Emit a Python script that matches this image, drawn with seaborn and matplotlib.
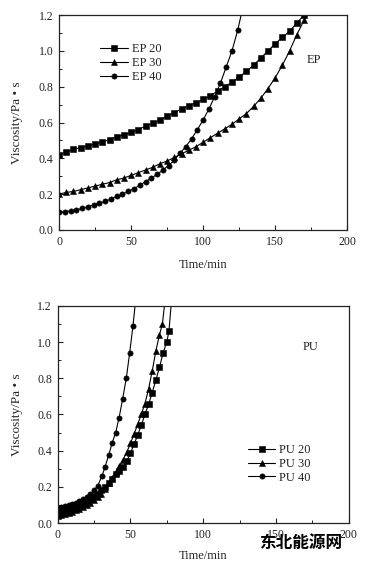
import numpy as np
import pandas as pd
import matplotlib
matplotlib.use("Agg")
import matplotlib.pyplot as plt
import seaborn as sns
from matplotlib.ticker import MultipleLocator

# ---------------- EP panel data ----------------
ep20_t = [0, 5, 10, 15, 20, 25, 30, 35, 40, 45, 50, 55, 60, 65, 70, 75, 80, 85, 90,
          95, 100, 105, 110, 115, 120, 125, 130, 135, 140, 145, 150, 155, 160, 165, 170]
ep20_v = [0.42, 0.435, 0.45, 0.46, 0.47, 0.48, 0.49, 0.505, 0.52, 0.53, 0.545, 0.56,
          0.58, 0.595, 0.615, 0.635, 0.655, 0.675, 0.695, 0.71, 0.73, 0.75, 0.775, 0.80,
          0.825, 0.855, 0.885, 0.92, 0.96, 1.0, 1.04, 1.075, 1.11, 1.155, 1.2]

ep30_t = [0, 5, 10, 15, 20, 25, 30, 35, 40, 45, 50, 55, 60, 65, 70, 75, 80, 85, 90,
          95, 100, 105, 110, 115, 120, 125, 130, 135, 140, 145, 150, 155, 160, 165, 170, 173]
ep30_v = [0.2, 0.21, 0.215, 0.225, 0.235, 0.245, 0.255, 0.265, 0.28, 0.29, 0.305, 0.32,
          0.335, 0.35, 0.37, 0.385, 0.405, 0.425, 0.445, 0.465, 0.49, 0.515, 0.54, 0.565,
          0.59, 0.62, 0.65, 0.69, 0.735, 0.79, 0.85, 0.92, 1.0, 1.09, 1.17, 1.23]

ep40_t = [0, 4, 8, 12, 16, 20, 24, 28, 32, 36, 40, 44, 48, 52, 56, 60, 64, 68, 72, 76,
          80, 84, 88, 92, 96, 100, 104, 108, 112, 116, 120, 124, 128]
ep40_v = [0.10, 0.102, 0.107, 0.113, 0.12, 0.13, 0.14, 0.15, 0.16, 0.173, 0.187, 0.2,
          0.215, 0.23, 0.25, 0.27, 0.29, 0.31, 0.335, 0.36, 0.39, 0.43, 0.465, 0.51,
          0.56, 0.615, 0.675, 0.745, 0.82, 0.91, 1.0, 1.115, 1.26]

# ---------------- PU panel data ----------------
pu20_t = [0, 2.5, 5, 7.5, 10, 12.5, 15, 17.5, 20, 22.5, 25, 27.5, 30, 32.5, 35, 37.5,
          40, 42.5, 45, 47.5, 50, 52.5, 55, 57.5, 60, 62.5, 65, 67.5, 70, 72.5, 75, 76.5, 79]
pu20_v = [0.06, 0.063, 0.067, 0.072, 0.08, 0.088, 0.097, 0.107, 0.12, 0.133, 0.148,
          0.163, 0.18, 0.2, 0.22, 0.245, 0.27, 0.29, 0.31, 0.34, 0.385, 0.435, 0.485,
          0.54, 0.6, 0.655, 0.72, 0.79, 0.86, 0.94, 1.0, 1.06, 1.3]

pu30_t = [0, 2.5, 5, 7.5, 10, 12.5, 15, 17.5, 20, 22.5, 25, 27.5, 30, 32.5, 35, 37.5,
          40, 42.5, 45, 47.5, 50, 52.5, 55, 57.5, 60, 62.5, 65, 67.5, 70, 72, 74.5]
pu30_v = [0.04, 0.044, 0.048, 0.054, 0.062, 0.07, 0.079, 0.088, 0.098, 0.11, 0.125,
          0.142, 0.162, 0.19, 0.22, 0.25, 0.28, 0.315, 0.35, 0.39, 0.44, 0.49, 0.545,
          0.6, 0.66, 0.74, 0.84, 0.95, 1.04, 1.1, 1.28]

pu40_t = [0, 2.5, 5, 7.5, 10, 12.5, 15, 17.5, 20, 22.5, 25, 27.5, 30.5, 32.6, 35.1,
          37.4, 39.9, 42.2, 44.7, 47.2, 49.5, 51.8, 54.5]
pu40_v = [0.085, 0.088, 0.092, 0.098, 0.105, 0.113, 0.122, 0.132, 0.145, 0.16, 0.18,
          0.205, 0.26, 0.31, 0.375, 0.44, 0.50, 0.58, 0.687, 0.80, 0.94, 1.09, 1.3]

xticks = [0, 50, 100, 150, 200]
yticks = [0.0, 0.2, 0.4, 0.6, 0.8, 1.0, 1.2]


def long_frame(series):
    parts = []
    for name, t, v in series:
        parts.append(pd.DataFrame({"Time": t, "Viscosity": v, "series": name}))
    return pd.concat(parts, ignore_index=True)


ep_df = long_frame([("EP 20", ep20_t, ep20_v), ("EP 30", ep30_t, ep30_v),
                    ("EP 40", ep40_t, ep40_v)])
pu_df = long_frame([("PU 20", pu20_t, pu20_v), ("PU 30", pu30_t, pu30_v),
                    ("PU 40", pu40_t, pu40_v)])

sns.set_theme(style="ticks")
plt.rcParams["font.family"] = ["Liberation Serif", "DejaVu Serif"]
plt.rcParams["axes.edgecolor"] = "#222222"
plt.rcParams["text.color"] = "#222222"
plt.rcParams["xtick.color"] = "#222222"
plt.rcParams["ytick.color"] = "#222222"

fig = plt.figure(figsize=(3.67, 5.67), dpi=100)
fig.patch.set_facecolor("white")
ax1 = fig.add_axes([0.161, 0.5944, 0.785, 0.379])
ax2 = fig.add_axes([0.157, 0.0776, 0.793, 0.383])


def draw_panel(ax, df, names, label, label_xy, leg_anchor, xlab_y, ylab_x):
    sns.lineplot(data=df, x="Time", y="Viscosity", hue="series", style="series",
                 hue_order=names, style_order=names,
                 palette={n: "black" for n in names},
                 markers={names[0]: "s", names[1]: "^", names[2]: "o"},
                 dashes=False, linewidth=0.8, markersize=3.8,
                 markeredgecolor="black", markeredgewidth=0.4,
                 estimator=None, sort=True, ax=ax)
    ax.set_xlim(0, 200)
    ax.set_ylim(0, 1.2)
    ax.set_xticks(xticks)
    ax.set_yticks(yticks)
    ax.set_yticklabels([f"{v:.1f}" for v in yticks])
    ax.xaxis.set_minor_locator(MultipleLocator(25))
    ax.yaxis.set_minor_locator(MultipleLocator(0.1))
    ax.tick_params(which="major", direction="in", length=3.5, width=0.8,
                   labelsize=8.5, top=False, right=False, pad=4)
    ax.tick_params(which="minor", direction="in", length=2, width=0.7,
                   top=False, right=False)
    for s in ax.spines.values():
        s.set_visible(True)
        s.set_linewidth(0.9)
    ax.set_xlabel("Time/min", fontsize=9)
    ax.set_ylabel("Viscosity/Pa • s", fontsize=9.5)
    ax.xaxis.set_label_coords(0.5, xlab_y)
    ax.yaxis.set_label_coords(ylab_x, 0.5)
    ax.text(label_xy[0], label_xy[1], label, transform=ax.transAxes,
            fontsize=9, ha="center", va="center")
    ax.legend(loc="upper left", bbox_to_anchor=leg_anchor, frameon=False,
              fontsize=9, handlelength=2.2, handletextpad=0.3,
              labelspacing=0.15, borderpad=0.2, borderaxespad=0)


draw_panel(ax1, ep_df, ["EP 20", "EP 30", "EP 40"], "EP", (0.885, 0.79),
           (0.135, 0.88), -0.135, -0.125)
draw_panel(ax2, pu_df, ["PU 20", "PU 30", "PU 40"], "PU", (0.87, 0.81),
           (0.645, 0.375), -0.124, -0.119)

# site watermark over the bottom axis labels
fig.text(0.82, 0.042, "东北能源网", fontsize=12, fontweight="bold",
         family=["Noto Sans CJK SC", "DejaVu Sans"], ha="center", va="center",
         color="black", zorder=10)

fig.savefig("out.png", dpi=100, facecolor="white")
